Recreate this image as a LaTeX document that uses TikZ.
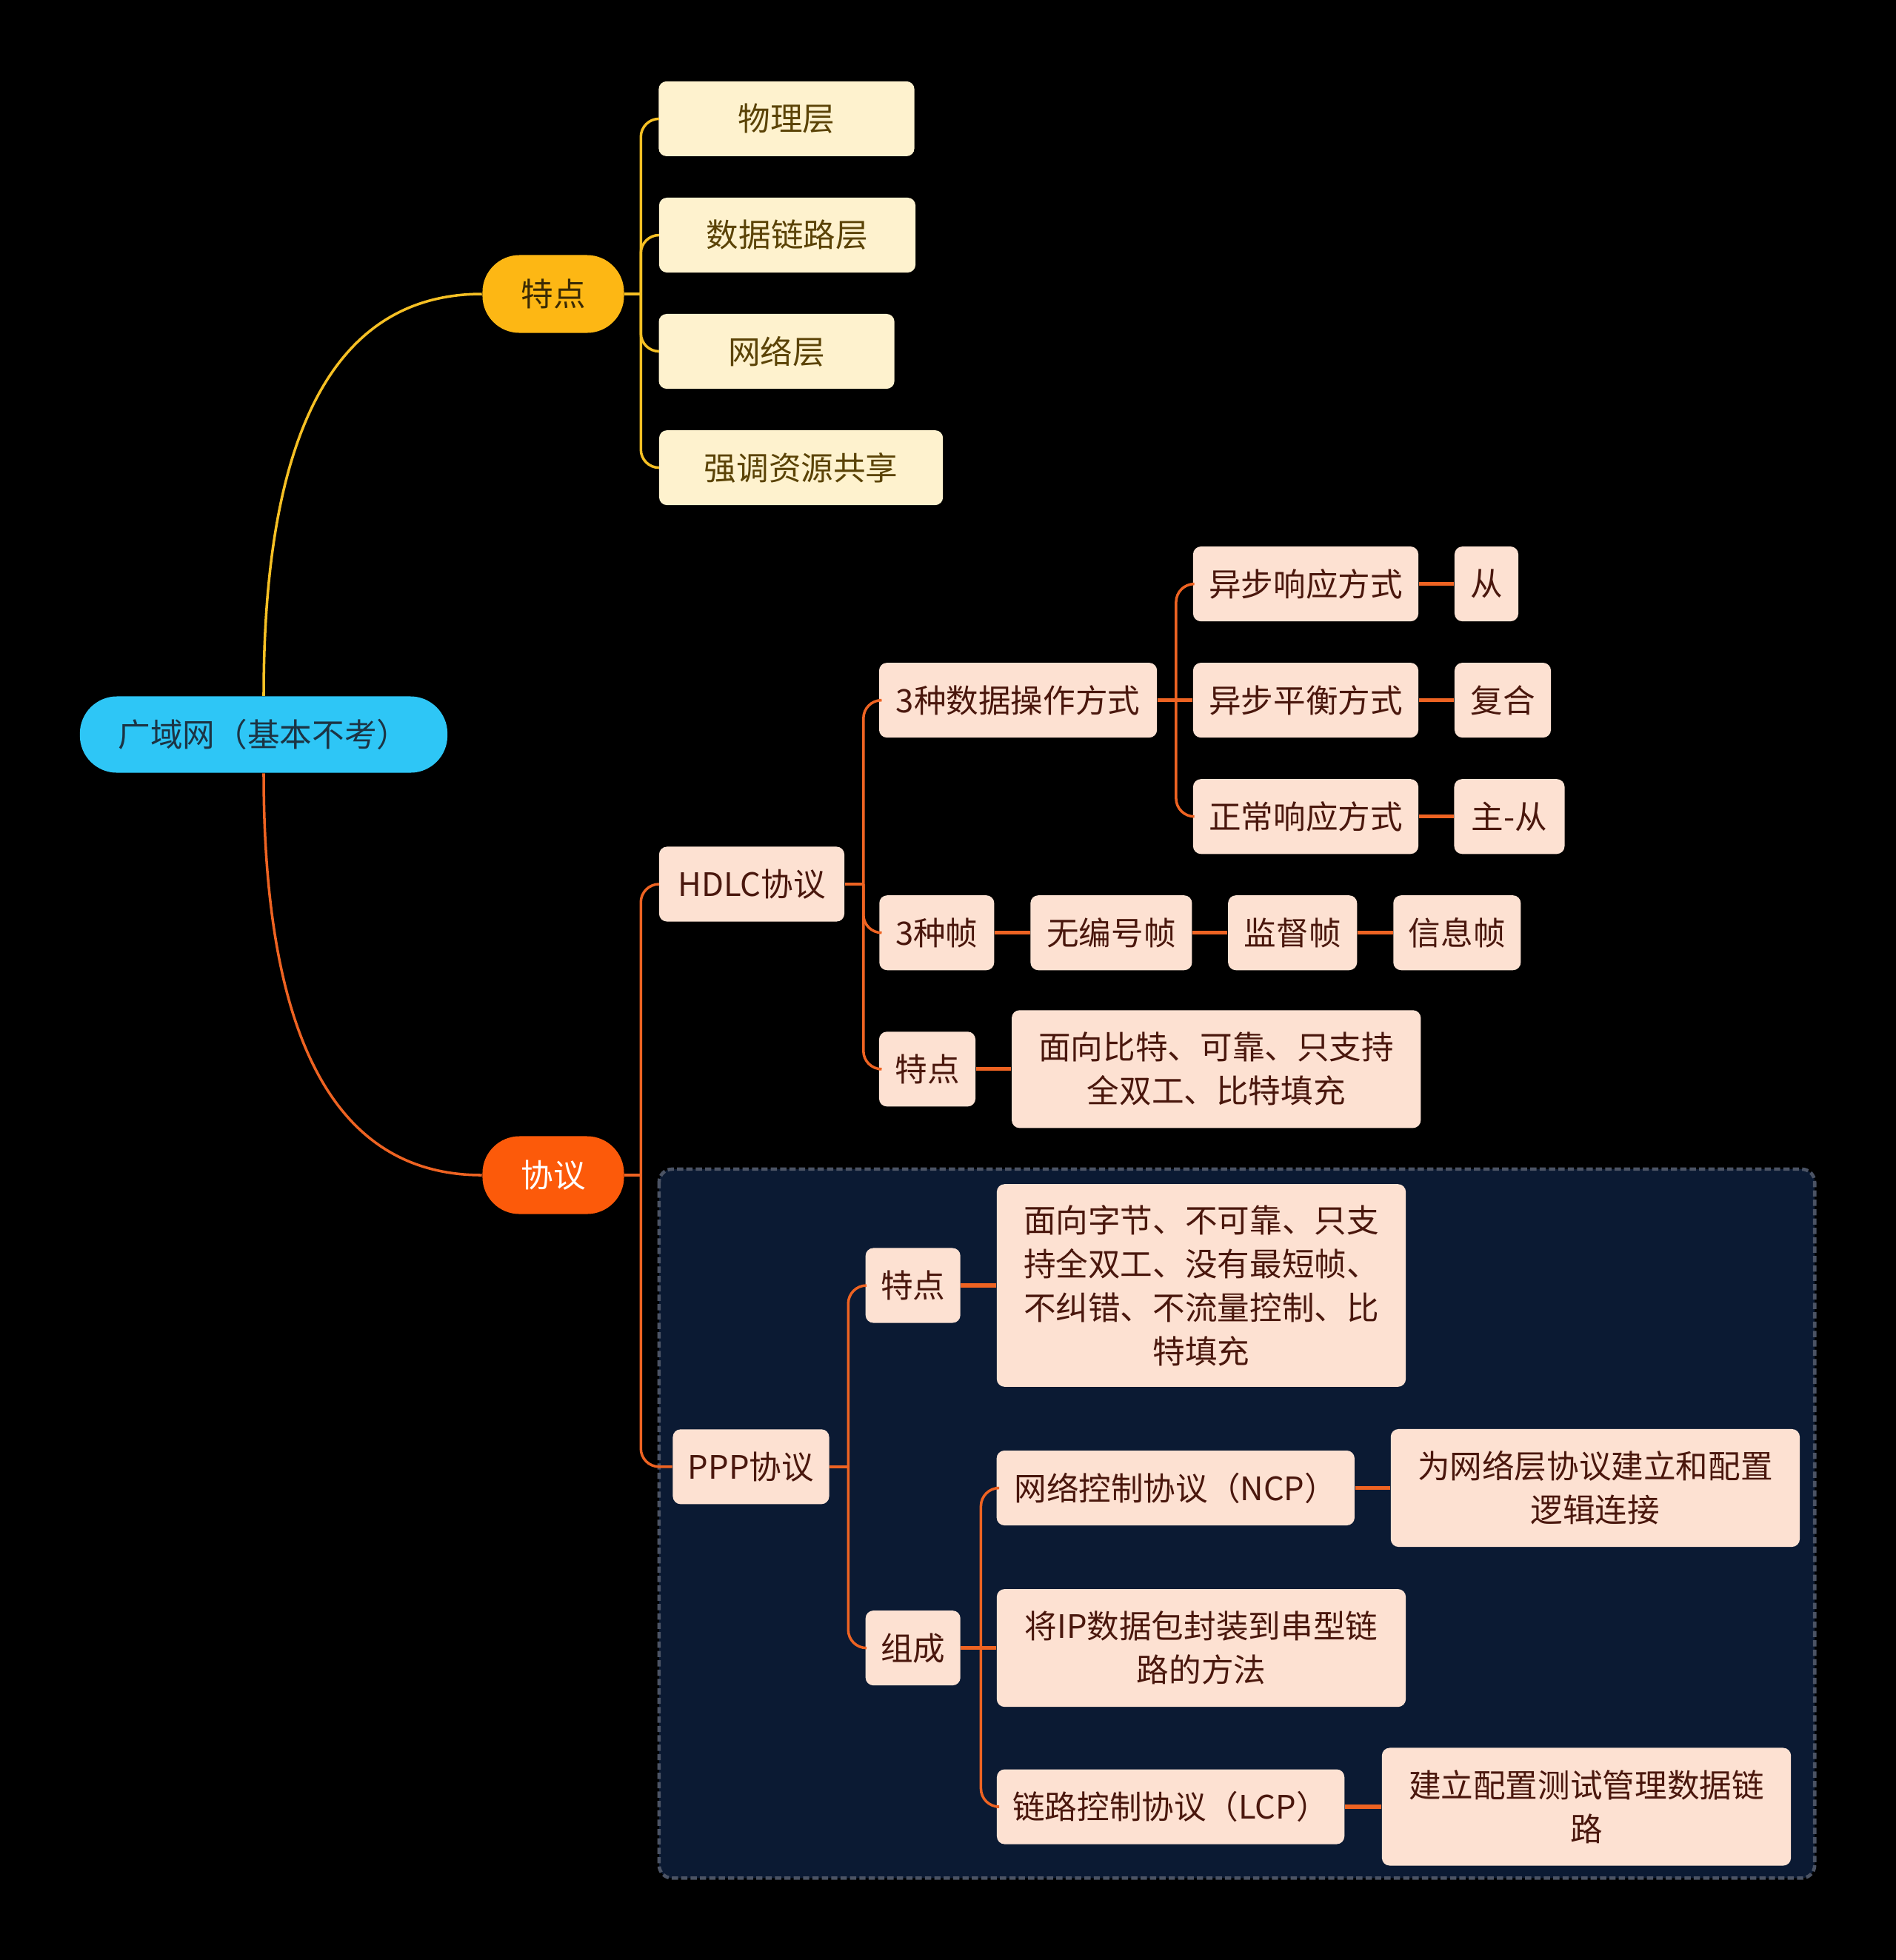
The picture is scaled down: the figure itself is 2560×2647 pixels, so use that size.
\documentclass[tikz,border=0pt]{standalone}
\usepackage{fontspec}
\setmainfont{Noto Sans CJK SC}
\usepackage{tikz}
\definecolor{rootC}{HTML}{2EC6F6}
\definecolor{rootT}{HTML}{1C3444}
\definecolor{featC}{HTML}{FDB714}
\definecolor{featT}{HTML}{3A2A05}
\definecolor{protoC}{HTML}{FC5A0A}
\definecolor{leafY}{HTML}{FEF2CE}
\definecolor{leafYT}{HTML}{5B4306}
\definecolor{leafP}{HTML}{FDE1D2}
\definecolor{leafPT}{HTML}{4A170D}
\definecolor{lineY}{HTML}{F6C024}
\definecolor{lineO}{HTML}{EE6322}
\definecolor{pppBg}{HTML}{0B1A33}
\definecolor{pppRim}{HTML}{4B5364}

\begin{document}
\begin{tikzpicture}[x=0.01cm, y=-0.01cm,
  font=\fontsize{12.4}{16.8}\selectfont,
  topic/.style={rounded corners=0.5cm, minimum width=1.91cm, minimum height=1.05cm},
  yleaf/.style={fill=leafY, text=leafYT, rounded corners=3pt, minimum height=1.01cm},
  pleaf/.style={fill=leafP, text=leafPT, rounded corners=3pt, minimum height=1.01cm, align=center},
  yconn/.style={draw=lineY, line width=1pt, rounded corners=7pt},
  oconn/.style={draw=lineO, line width=1pt, rounded corners=7pt},
  olink/.style={draw=lineO, line width=1.5pt}]

  % page
  \fill[black] (0,0) rectangle (2560,2647);
  \useasboundingbox (0,0) rectangle (2560,2647);

  % PPP group frame
  \draw[fill=pppBg, draw=pppRim, line width=1.3pt, dash pattern=on 2.4pt off 1.2pt, rounded corners=5pt]
    (889.9,1578.9) rectangle (2450.2,2536.4);

  % centre and main topics
  \node[topic, fill=rootC, text=rootT, minimum width=4.96cm, minimum height=1.03cm] (root) at (356,992) {广域网（基本不考）};
  \node[topic, fill=featC, text=featT] (featA) at (747,397) {特点};
  \node[topic, fill=protoC, text=white] (proto) at (747,1587) {协议};

  \draw[lineY, line width=1pt] (root.north) .. controls (356,535) and (480,397) .. (featA.west);
  \draw[lineO, line width=1pt] (root.south) .. controls (356,1450) and (480,1587) .. (proto.west);

  % features
  \node[yleaf, minimum width=3.45cm] (phys) at (1062,160.4) {物理层};
  \node[yleaf, minimum width=3.46cm] (dlink) at (1063,317.5) {数据链路层};
  \node[yleaf, minimum width=3.83cm] (share) at (1081.6,631.6) {强调资源共享};
  \node[yleaf, minimum width=3.18cm] (net) at (1048.6,474.5) {网络层};
  \draw[yconn] (featA.east) -- ++(22,0);
  \foreach \c in {phys,dlink,net,share}{
    \draw[yconn] (featA.east) ++(22,0) |- (\c.west);
  }

  % HDLC
  \node[pleaf, minimum width=2.50cm] (hdlc) at (1015,1194) {HDLC协议};
  \node[pleaf, minimum width=2.11cm] (ppp) at (1014,1980.8) {PPP协议};
  \draw[oconn] (proto.east) -- ++(22,0);
  \foreach \c in {hdlc,ppp}{
    \draw[oconn] (proto.east) ++(22,0) |- (\c.west);
  }

  \node[pleaf, minimum width=3.75cm] (ops) at (1374.6,945.6) {3种数据操作方式};
  \node[pleaf, minimum width=1.55cm] (frames) at (1264.8,1259.7) {3种帧};
  \node[pleaf, minimum width=1.30cm] (hfeat) at (1252,1443.8) {特点};
  \draw[oconn] (hdlc.east) -- ++(25,0);
  \foreach \c in {ops,frames,hfeat}{
    \draw[oconn] (hdlc.east) ++(25,0) |- (\c.west);
  }

  \node[pleaf, minimum width=3.04cm] (asr) at (1763,788.6) {异步响应方式};
  \node[pleaf, minimum width=3.04cm] (abm) at (1763,945.6) {异步平衡方式};
  \node[pleaf, minimum width=3.04cm] (nrm) at (1763,1102.7) {正常响应方式};
  \foreach \c in {asr,nrm}{
    \draw[oconn] (ops.east) ++(25,0) |- (\c.west);
  }
  \draw[olink] (ops) -- (abm);

  \node[pleaf, minimum width=0.86cm] (slave) at (2007,788.6) {从};
  \node[pleaf, minimum width=1.30cm] (combo) at (2029,945.6) {复合};
  \node[pleaf, minimum width=1.49cm] (mslave) at (2038,1102.7) {主-从};
  \draw[olink] (asr) -- (slave);
  \draw[olink] (abm) -- (combo);
  \draw[olink] (nrm) -- (mslave);

  \node[pleaf, minimum width=2.18cm] (unum) at (1500.4,1259.7) {无编号帧};
  \node[pleaf, minimum width=1.74cm] (sup) at (1745.2,1259.7) {监督帧};
  \node[pleaf, minimum width=1.72cm] (info) at (1967.3,1259.7) {信息帧};
  \draw[olink] (frames) -- (unum);
  \draw[olink] (unum) -- (sup);
  \draw[olink] (sup) -- (info);

  \node[pleaf, minimum width=5.52cm, minimum height=1.59cm] (hfeattxt) at (1642.2,1443.8)
    {面向比特、可靠、只支持\\全双工、比特填充};
  \draw[olink] (hfeat) -- (hfeattxt);

  % PPP
  \node[pleaf, minimum width=1.28cm] (pfeat) at (1232.7,1736) {特点};
  \node[pleaf, minimum width=1.28cm] (comp) at (1232.7,2225.6) {组成};
  \draw[oconn] (ppp.east) -- ++(25,0);
  \foreach \c in {pfeat,comp}{
    \draw[oconn] (ppp.east) ++(25,0) |- (\c.west);
  }

  \node[pleaf, minimum width=5.52cm, minimum height=2.735cm] (pfeattxt) at (1622,1736)
    {面向字节、不可靠、只支\\持全双工、没有最短帧、\\不纠错、不流量控制、比\\特填充};
  \draw[olink] (pfeat) -- (pfeattxt);

  \node[pleaf, minimum width=4.83cm] (ncp) at (1587.3,2009.5) {网络控制协议（NCP）};
  \node[pleaf, minimum width=5.52cm, minimum height=1.59cm] (ipenc) at (1622,2225.6)
    {将IP数据包封装到串型链\\路的方法};
  \node[pleaf, minimum width=4.69cm] (lcp) at (1580.6,2440) {链路控制协议（LCP）};
  \foreach \c in {ncp,lcp}{
    \draw[oconn] (comp.east) ++(27,0) |- (\c.west);
  }
  \draw[olink] (comp) -- (ipenc);

  \node[pleaf, minimum width=5.52cm, minimum height=1.59cm] (ncptxt) at (2153.9,2009.5)
    {为网络层协议建立和配置\\逻辑连接};
  \node[pleaf, minimum width=5.52cm, minimum height=1.59cm] (lcptxt) at (2142,2440)
    {建立配置测试管理数据链\\路};
  \draw[olink] (ncp) -- (ncptxt);
  \draw[olink] (lcp) -- (lcptxt);

\end{tikzpicture}
\end{document}
